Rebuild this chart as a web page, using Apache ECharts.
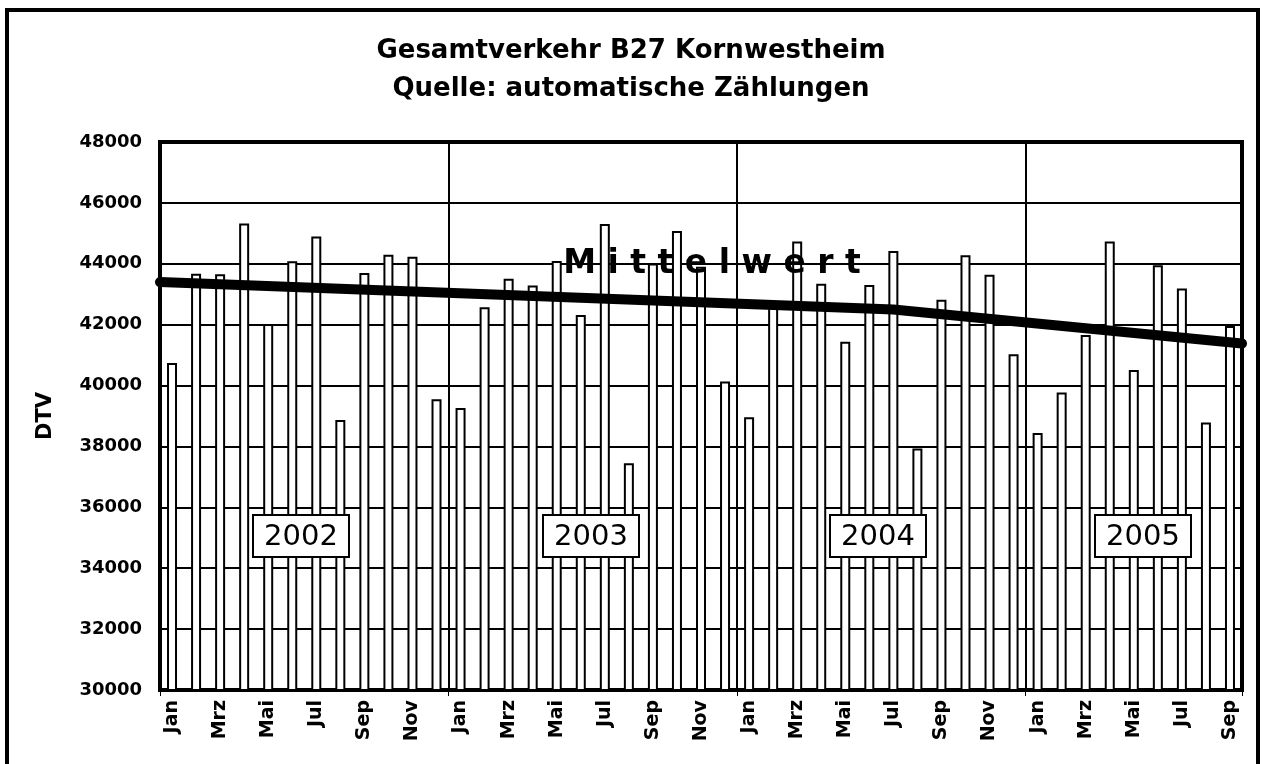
<!DOCTYPE html>
<html>
<head>
<meta charset="utf-8">
<script src="https://cdn.jsdelivr.net/npm/echarts@6/dist/echarts.min.js"></script>
<style>
  html, body { margin: 0; padding: 0; background: #fff; }
  #chart { width: 1262px; height: 764px; }
</style>
</head>
<body>
<div id="chart"></div>
<script>
  // Monatsnamen (deutsch)
  const months = ['Jan', 'Feb', 'Mrz', 'Apr', 'Mai', 'Jun', 'Jul', 'Aug', 'Sep', 'Okt', 'Nov', 'Dez'];
  const years = ['2002', '2003', '2004', '2005'];

  // DTV je Monat
  const dtv2002 = [40740, 43670, 43660, 45320, 42020, 44080, 44900, 38870, 43700, 44300, 44230, 39550];
  const dtv2003 = [39260, 42570, 43510, 43290, 44090, 42320, 45310, 37450, 44010, 45080, 43900, 40130];
  const dtv2004 = [38960, 42650, 44730, 43340, 41440, 43300, 44420, 37930, 42820, 44280, 43640, 41030];
  const dtv2005 = [38440, 39770, 41660, 44730, 40510, 43950, 43190, 38790, 41960];

  // Mittelwert-Linie (Monatsposition, Wert)
  const mittelPos = [0, 30.5, 45];
  const mittelVal = [43400, 42500, 41380];

  const yTicks = { min: 30000, max: 48000, step: 2000 };

  const categories = [];
  [dtv2002, dtv2003, dtv2004, dtv2005].forEach(function (arr) {
    arr.forEach(function (v, i) { categories.push(months[i]); });
  });
  const values = [].concat(dtv2002, dtv2003, dtv2004, dtv2005);
  const mittel = mittelPos.map(function (p, i) { return [p, mittelVal[i]]; });

  const font = 'DejaVu Sans';
  const yearBoxLeft = [253, 543, 830, 1095];

  const graphics = [{
    type: 'rect',
    shape: { x: 7, y: 10, width: 1251, height: 800 },
    style: { fill: 'none', stroke: '#000', lineWidth: 4 },
    z: 100
  }, {
    type: 'text',
    x: 712, y: 264,
    style: {
      text: 'M i t t e l w e r t',
      font: 'bold 33px "DejaVu Sans"',
      fill: '#000',
      textAlign: 'center',
      textVerticalAlign: 'middle'
    },
    z: 100
  }];
  years.forEach(function (y, i) {
    graphics.push({
      type: 'rect',
      shape: { x: yearBoxLeft[i], y: 515, width: 96, height: 42 },
      style: { fill: '#fff', stroke: '#000', lineWidth: 2 },
      z: 100
    });
    graphics.push({
      type: 'text',
      x: yearBoxLeft[i] + 48, y: 537,
      style: {
        text: y,
        font: '29px "DejaVu Sans"',
        fill: '#000',
        textAlign: 'center',
        textVerticalAlign: 'middle'
      },
      z: 101
    });
  });

  const myChart = echarts.init(document.getElementById('chart'));
  const option = {
    animation: false,
    backgroundColor: '#fff',
    title: {
      text: 'Gesamtverkehr B27 Kornwestheim\nQuelle: automatische Zählungen',
      left: 'center',
      top: 27,
      textStyle: {
        fontFamily: font,
        fontWeight: 'bold',
        fontSize: 26,
        lineHeight: 38,
        color: '#000'
      }
    },
    grid: {
      left: 160,
      right: 20,
      top: 142,
      bottom: 74,
      show: true,
      borderColor: '#000',
      borderWidth: 4,
      outerBoundsMode: 'none'
    },
    xAxis: [{
      type: 'category',
      data: categories,
      boundaryGap: true,
      axisLine: { show: true, lineStyle: { color: '#000', width: 3 } },
      axisTick: {
        show: true,
        length: 6,
        interval: function (i) { return i % 12 === 0; },
        lineStyle: { color: '#000', width: 1 }
      },
      axisLabel: {
        interval: 1,
        rotate: 90,
        margin: 10,
        color: '#000',
        fontFamily: font,
        fontWeight: 'bold',
        fontSize: 19
      },
      splitLine: {
        show: true,
        interval: function (i) { return i % 12 === 0 && i > 0; },
        lineStyle: { color: '#000', width: 2 }
      }
    }, {
      type: 'value',
      min: 0,
      max: 45,
      show: false
    }],
    yAxis: {
      type: 'value',
      min: yTicks.min,
      max: yTicks.max,
      interval: yTicks.step,
      name: 'DTV',
      nameLocation: 'middle',
      nameGap: 104,
      nameRotate: 90,
      nameTextStyle: {
        fontFamily: font,
        fontWeight: 'bold',
        fontSize: 21,
        color: '#000'
      },
      axisLine: { show: true, lineStyle: { color: '#000', width: 4 } },
      axisTick: { show: false },
      axisLabel: {
        margin: 18,
        color: '#000',
        fontFamily: font,
        fontWeight: 'bold',
        fontSize: 18,
        formatter: function (v) { return String(v); }
      },
      splitLine: { show: true, lineStyle: { color: '#000', width: 2 } }
    },
    series: [{
      name: 'DTV',
      type: 'bar',
      data: values,
      barWidth: 10,
      itemStyle: { color: '#fff', borderColor: '#000', borderWidth: 2 }
    }, {
      name: 'Mittelwert',
      type: 'line',
      xAxisIndex: 1,
      data: mittel,
      symbol: 'none',
      z: 5,
      lineStyle: { color: '#000', width: 10, cap: 'round' }
    }],
    graphic: graphics
  };
  myChart.setOption(option);
</script>
</body>
</html>
